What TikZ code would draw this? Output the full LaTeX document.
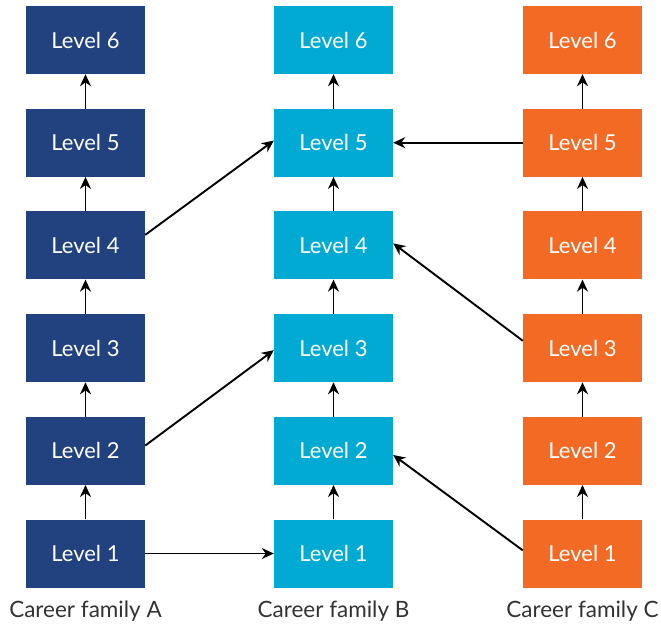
\documentclass[tikz,border=0pt]{standalone}
\usepackage{fontspec}
\setmainfont{Lato}
\usetikzlibrary{arrows.meta}
\definecolor{famA}{HTML}{21427F}
\definecolor{famB}{HTML}{00AAD2}
\definecolor{famC}{HTML}{F26A24}
\definecolor{labelgrey}{HTML}{333333}
\tikzset{
  levelbox/.style={fill=#1, text=white, minimum width=119pt, minimum height=68pt,
    inner sep=0pt, font=\fontsize{22}{26}\selectfont},
  link/.style={-{Stealth[length=12pt,width=11pt]}, line width=1.9pt},
  family/.style={text=labelgrey, font=\fontsize{22.5}{27}\selectfont},
}
\begin{document}
\begin{tikzpicture}[x=1pt,y=-1pt]
\useasboundingbox (0,0) rectangle (661,625);
% career family A
\begin{scope}[xshift=85.5pt]
\foreach \l in {1,...,6}
  \node[levelbox=famA] (A\l) at (0,{40+(6-\l)*102.7}) {Level \l};
\foreach \l/\n in {1/2,2/3,3/4,4/5,5/6}
  \draw[link] (A\l) -- (A\n);
\node[family] (labA) at (0,611) {Career family A};
\end{scope}
% career family B
\begin{scope}[xshift=333.5pt]
\foreach \l in {1,...,6}
  \node[levelbox=famB] (B\l) at (0,{40+(6-\l)*102.7}) {Level \l};
\foreach \l/\n in {1/2,2/3,3/4,4/5,5/6}
  \draw[link] (B\l) -- (B\n);
\node[family] (labB) at (0,611) {Career family B};
\end{scope}
% career family C
\begin{scope}[xshift=582.5pt]
\foreach \l in {1,...,6}
  \node[levelbox=famC] (C\l) at (0,{40+(6-\l)*102.7}) {Level \l};
\foreach \l/\n in {1/2,2/3,3/4,4/5,5/6}
  \draw[link] (C\l) -- (C\n);
\node[family] (labC) at (0,611) {Career family C};
\end{scope}
% moves between families
\draw[link] (A1) -- (B1);
\draw[link] (A2.5) -- (B3.182);
\draw[link] (A4.10) -- (B5.178);
\draw[link] (C1.177) -- (B2.-4);
\draw[link] (C3.173) -- (B4.2);
\draw[link] (C5) -- (B5);
\end{tikzpicture}
\end{document}
